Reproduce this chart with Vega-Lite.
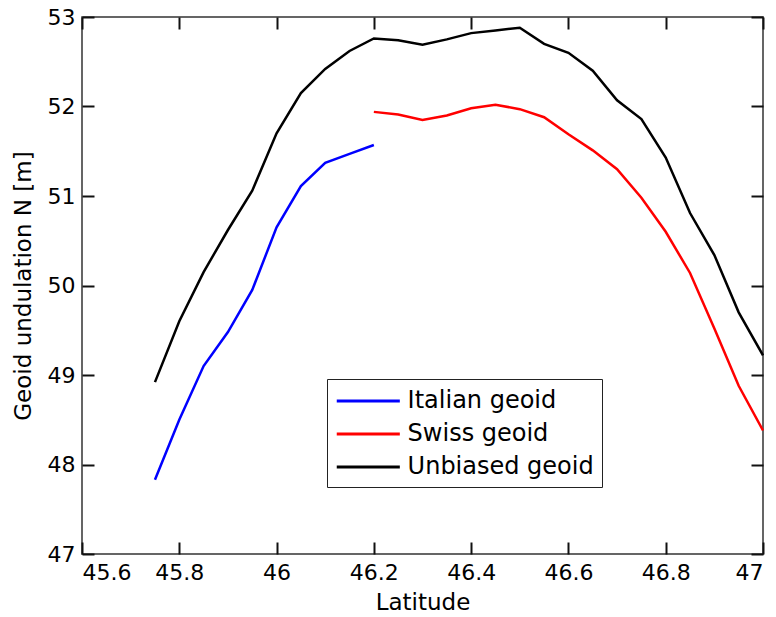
{
  "$schema": "https://vega.github.io/schema/vega-lite/v6.json",
  "autosize": "none",
  "width": 681,
  "height": 537,
  "padding": {"left": 82, "top": 17, "right": 13, "bottom": 63},
  "background": "white",
  "config": {
    "font": "DejaVu Sans",
    "view": {"stroke": "#333333", "strokeWidth": 1.5},
    "axis": {"grid": false, "domain": false, "ticks": true, "tickColor": "#111111", "tickWidth": 2, "tickSize": 12, "offset": -12,
             "labelFont": "DejaVu Sans", "labelFontSize": 22, "labelColor": "black",
             "titleFont": "DejaVu Sans", "titleFontSize": 23, "titleFontWeight": "normal", "titleColor": "black"}
  },
  "data": {"values": [
    {"series": "Italian geoid", "lat": 45.75, "N": 47.83},
    {"series": "Italian geoid", "lat": 45.80, "N": 48.50},
    {"series": "Italian geoid", "lat": 45.85, "N": 49.10},
    {"series": "Italian geoid", "lat": 45.90, "N": 49.48},
    {"series": "Italian geoid", "lat": 45.95, "N": 49.95},
    {"series": "Italian geoid", "lat": 46.00, "N": 50.65},
    {"series": "Italian geoid", "lat": 46.05, "N": 51.11},
    {"series": "Italian geoid", "lat": 46.10, "N": 51.37},
    {"series": "Italian geoid", "lat": 46.15, "N": 51.47},
    {"series": "Italian geoid", "lat": 46.20, "N": 51.57},
    {"series": "Swiss geoid", "lat": 46.20, "N": 51.94},
    {"series": "Swiss geoid", "lat": 46.25, "N": 51.91},
    {"series": "Swiss geoid", "lat": 46.30, "N": 51.85},
    {"series": "Swiss geoid", "lat": 46.35, "N": 51.90},
    {"series": "Swiss geoid", "lat": 46.40, "N": 51.98},
    {"series": "Swiss geoid", "lat": 46.45, "N": 52.02},
    {"series": "Swiss geoid", "lat": 46.50, "N": 51.97},
    {"series": "Swiss geoid", "lat": 46.55, "N": 51.88},
    {"series": "Swiss geoid", "lat": 46.60, "N": 51.69},
    {"series": "Swiss geoid", "lat": 46.65, "N": 51.51},
    {"series": "Swiss geoid", "lat": 46.70, "N": 51.30},
    {"series": "Swiss geoid", "lat": 46.75, "N": 50.98},
    {"series": "Swiss geoid", "lat": 46.80, "N": 50.60},
    {"series": "Swiss geoid", "lat": 46.85, "N": 50.14},
    {"series": "Swiss geoid", "lat": 46.90, "N": 49.52},
    {"series": "Swiss geoid", "lat": 46.95, "N": 48.88},
    {"series": "Swiss geoid", "lat": 47.00, "N": 48.38},
    {"series": "Unbiased geoid", "lat": 45.75, "N": 48.92},
    {"series": "Unbiased geoid", "lat": 45.80, "N": 49.60},
    {"series": "Unbiased geoid", "lat": 45.85, "N": 50.15},
    {"series": "Unbiased geoid", "lat": 45.90, "N": 50.62},
    {"series": "Unbiased geoid", "lat": 45.95, "N": 51.06},
    {"series": "Unbiased geoid", "lat": 46.00, "N": 51.70},
    {"series": "Unbiased geoid", "lat": 46.05, "N": 52.15},
    {"series": "Unbiased geoid", "lat": 46.10, "N": 52.42},
    {"series": "Unbiased geoid", "lat": 46.15, "N": 52.62},
    {"series": "Unbiased geoid", "lat": 46.20, "N": 52.76},
    {"series": "Unbiased geoid", "lat": 46.25, "N": 52.74},
    {"series": "Unbiased geoid", "lat": 46.30, "N": 52.69},
    {"series": "Unbiased geoid", "lat": 46.35, "N": 52.75},
    {"series": "Unbiased geoid", "lat": 46.40, "N": 52.82},
    {"series": "Unbiased geoid", "lat": 46.45, "N": 52.85},
    {"series": "Unbiased geoid", "lat": 46.50, "N": 52.88},
    {"series": "Unbiased geoid", "lat": 46.55, "N": 52.70},
    {"series": "Unbiased geoid", "lat": 46.60, "N": 52.60},
    {"series": "Unbiased geoid", "lat": 46.65, "N": 52.40},
    {"series": "Unbiased geoid", "lat": 46.70, "N": 52.07},
    {"series": "Unbiased geoid", "lat": 46.75, "N": 51.86},
    {"series": "Unbiased geoid", "lat": 46.80, "N": 51.43},
    {"series": "Unbiased geoid", "lat": 46.85, "N": 50.81},
    {"series": "Unbiased geoid", "lat": 46.90, "N": 50.34},
    {"series": "Unbiased geoid", "lat": 46.95, "N": 49.70},
    {"series": "Unbiased geoid", "lat": 47.00, "N": 49.22}
  ]},
  "layer": [
    {
      "mark": {"type": "line", "strokeWidth": 2.5},
      "encoding": {
        "x": {"field": "lat", "type": "quantitative",
              "scale": {"domain": [45.6, 47], "nice": false, "zero": false},
              "axis": {"orient": "bottom", "title": "Latitude", "values": [45.6, 45.8, 46, 46.2, 46.4, 46.6, 46.8, 47], "format": "~g", "labelPadding": 8, "titlePadding": 8}},
        "y": {"field": "N", "type": "quantitative",
              "scale": {"domain": [47, 53], "nice": false, "zero": false},
              "axis": {"orient": "left", "title": "Geoid undulation N [m]", "values": [47, 48, 49, 50, 51, 52, 53], "format": "d", "labelPadding": 7, "titlePadding": 12}},
        "color": {"field": "series", "type": "nominal",
                  "scale": {"domain": ["Italian geoid", "Swiss geoid", "Unbiased geoid"], "range": ["#0000FF", "#FF0000", "#000000"]},
                  "legend": {"orient": "none", "legendX": 245, "legendY": 362, "title": null,
                             "symbolType": "M-1,0H4.15", "symbolStrokeWidth": 3, "symbolSize": 600, "symbolFillColor": "transparent",
                             "labelFont": "DejaVu Sans", "labelFontSize": 24, "labelColor": "black", "labelOffset": 44.6, "labelLimit": 400,
                             "strokeColor": "#222222", "fillColor": "white", "padding": 8, "rowPadding": 7}}
      }
    },
    {
      "mark": {"type": "line", "strokeOpacity": 0},
      "encoding": {
        "x": {"field": "lat", "type": "quantitative",
              "axis": {"orient": "top", "title": null, "labels": false, "values": [45.6, 45.8, 46, 46.2, 46.4, 46.6, 46.8, 47]}},
        "y": {"field": "N", "type": "quantitative",
              "axis": {"orient": "right", "title": null, "labels": false, "values": [47, 48, 49, 50, 51, 52, 53]}},
        "detail": {"field": "series"}
      }
    }
  ],
  "resolve": {"axis": {"x": "independent", "y": "independent"}}
}
